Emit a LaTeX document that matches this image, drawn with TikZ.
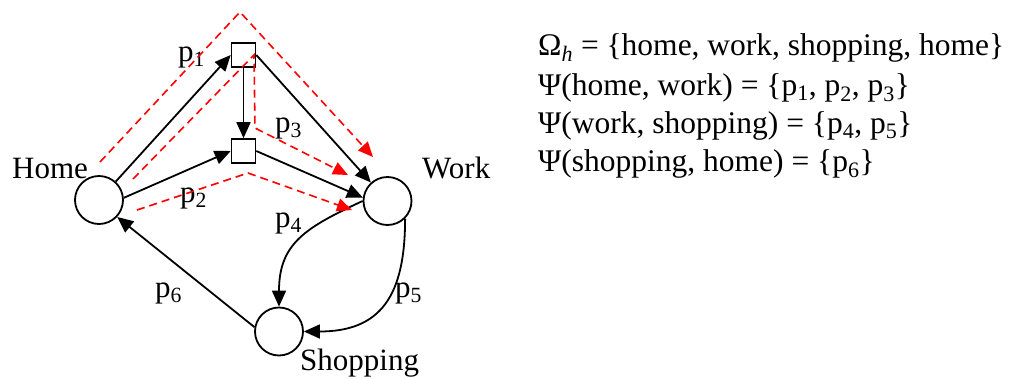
\documentclass[tikz,border=0pt]{standalone}
\usepackage{fontspec}
\setmainfont{Liberation Serif}
\usetikzlibrary{arrows.meta}
\begin{document}
\begin{tikzpicture}[x=1pt,y=-1pt,
  place/.style={draw,circle,line width=1.8pt,minimum size=48pt,inner sep=0pt},
  trans/.style={draw,rectangle,line width=1.6pt,minimum size=24pt,inner sep=0pt},
  lbl/.style={anchor=base west,inner sep=0pt,font=\fontsize{31}{36}\selectfont},
  eq/.style={anchor=base west,inner sep=0pt,font=\fontsize{31.5}{36}\selectfont},
  arc/.style={line width=1.8pt,-{Triangle[length=16pt,width=14pt]}},
  red path/.style={red,line width=1.6pt,dash pattern=on 8pt off 5pt,
     -{Triangle[length=15pt,width=13pt]}}]
\useasboundingbox (0,0) rectangle (1013,378);
% places and transitions
\node[place] (home) at (99,200) {};
\node[place] (work) at (387.5,201) {};
\node[place] (shop) at (279,331.5) {};
\node[trans] (sq1) at (243.5,55) {};
\node[trans] (sq2) at (243.5,151) {};
% labels
\node[lbl] (lhome) at (12,178) {Home};
\node[lbl] (lwork) at (422,178) {Work};
\node[lbl] (lshop) at (300,370) {Shopping};
\node[lbl] (lp1) at (178,61) {p\textsubscript{1}};
\node[lbl] (lp2) at (180,202) {p\textsubscript{2}};
\node[lbl] (lp3) at (275,132) {p\textsubscript{3}};
\node[lbl] (lp4) at (275,227) {p\textsubscript{4}};
\node[lbl] (lp5) at (395,297) {p\textsubscript{5}};
\node[lbl] (lp6) at (155,297) {p\textsubscript{6}};
% black arcs
\draw[arc] (home) -- (sq1.west);
\draw[arc] (home.5) -- (sq2.west);
\draw[arc] (sq1) -- (sq2);
\draw[arc] (sq1.east) -- (work);
\draw[arc] (sq2.east) -- (work.172);
\draw[arc] (work.west) to[out=205,in=90,looseness=1.2] (shop.north);
\draw[arc] (work.-45) to[out=-90,in=0,looseness=1.3] (shop.east);
\draw[arc] (shop.170) -- (home.-43);
% red dashed paths
\coordinate (r1a) at (100,162);
\coordinate (r1b) at (240,12);
\coordinate (r1c) at (373,157);
\coordinate (r2a) at (133,179);
\coordinate (r2b) at (254,55);
\coordinate (r2c) at (255,128);
\coordinate (r2d) at (348,175);
\coordinate (r3a) at (137,210);
\coordinate (r3b) at (248,173);
\coordinate (r3c) at (352,210);
\draw[red path] (r1a) -- (r1b) -- (r1c);
\draw[red path] (r2a) -- (r2b) -- (r2c) -- (r2d);
\draw[red path] (r3a) -- (r3b) -- (r3c);
% equations
\node[eq] (e1) at (538,55) {Ω\textsubscript{\textit{h}} = \{home, work, shopping, home\}};
\node[eq] (e2) at (538,95) {Ψ(home, work) = \{p\textsubscript{1}, p\textsubscript{2}, p\textsubscript{3}\}};
\node[eq] (e3) at (538,133) {Ψ(work, shopping) = \{p\textsubscript{4}, p\textsubscript{5}\}};
\node[eq] (e4) at (538,171) {Ψ(shopping, home) = \{p\textsubscript{6}\}};
\end{tikzpicture}
\end{document}
